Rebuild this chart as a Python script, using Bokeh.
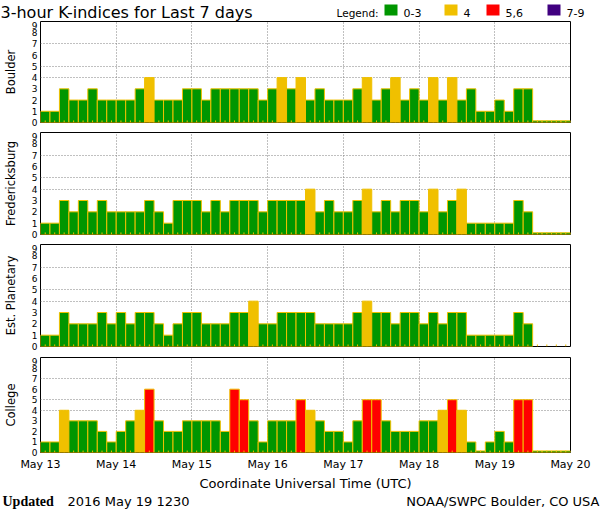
from bokeh.plotting import figure
from bokeh.layouts import column
from bokeh.models import FixedTicker, ColumnDataSource, Grid, Range1d
from bokeh.core.properties import value
from bokeh.embed import file_html
from bokeh.resources import INLINE

# ---------------- data ----------------
day_labels = ["May 13", "May 14", "May 15", "May 16", "May 17", "May 18", "May 19", "May 20"]
bars_per_day = 8

boulder = [1, 1, 3, 2, 2, 3, 2, 2,
           2, 2, 3, 4, 2, 2, 2, 3,
           3, 2, 3, 3, 3, 3, 3, 2,
           3, 4, 3, 4, 2, 3, 2, 2,
           2, 3, 4, 2, 3, 4, 2, 3,
           2, 4, 2, 4, 2, 3, 1, 1,
           2, 1, 3, 3, 0, 0, 0, 0]
fredericksburg = [1, 1, 3, 2, 3, 2, 3, 2,
                  2, 2, 2, 3, 2, 1, 3, 3,
                  3, 2, 3, 2, 3, 3, 3, 2,
                  3, 3, 3, 3, 4, 2, 3, 2,
                  2, 3, 4, 2, 3, 2, 3, 3,
                  2, 4, 2, 3, 4, 1, 1, 1,
                  1, 1, 3, 2, 0, 0, 0, 0]
planetary = [1, 1, 3, 2, 2, 2, 3, 2,
             3, 2, 3, 3, 2, 1, 2, 3,
             3, 2, 2, 2, 3, 3, 4, 2,
             2, 3, 3, 3, 3, 2, 2, 2,
             2, 3, 4, 3, 3, 2, 3, 3,
             2, 3, 2, 3, 3, 1, 1, 1,
             1, 1, 3, 2, None, None, None, None]
college = [1, 1, 4, 3, 3, 3, 2, 1,
           2, 3, 4, 6, 3, 2, 2, 3,
           3, 3, 3, 2, 6, 5, 3, 1,
           3, 3, 3, 5, 4, 3, 2, 2,
           1, 3, 5, 5, 3, 2, 2, 2,
           3, 3, 4, 5, 4, 1, 0, 1,
           2, 1, 5, 5, 0, 0, 0, 0]

station_names = ["Boulder", "Fredericksburg", "Est. Planetary", "College"]
station_values = [boulder, fredericksburg, planetary, college]

title_text = "3-hour K-indices for Last 7 days"
legend_title = "Legend:"
legend_labels = ["0-3", "4", "5,6", "7-9"]
x_title = "Coordinate Universal Time (UTC)"
updated_word = "Updated"
updated_time = "2016 May 19 1230"
credit = "NOAA/SWPC Boulder, CO USA"

# ---------------- styles ----------------
GREEN = "#009600"
YELLOW = "#f0c000"
RED = "#ff0000"
PURPLE = "#400080"
legend_colors = [GREEN, YELLOW, RED, PURPLE]
FONT = "DejaVu Sans"
W = 600


def kcolor(k):
    if k <= 3:
        return GREEN
    if k == 4:
        return YELLOW
    if k <= 6:
        return RED
    return PURPLE


def blank_fig(h):
    f = figure(width=W, height=h, x_range=Range1d(0, W), y_range=Range1d(h, 0),
               output_backend="svg", toolbar_location=None, tools="", title=None,
               x_axis_location=None, y_axis_location=None, min_border=0,
               frame_align=False)
    f.outline_line_color = None
    f.background_fill_color = "white"
    f.border_fill_color = "white"
    f.xgrid.grid_line_color = None
    f.ygrid.grid_line_color = None
    return f


# ---------------- header (title + legend) ----------------
HEADER_H = 21
hdr = blank_fig(HEADER_H)
hdr.text(x=[0], y=[11.7], text=[title_text], text_font=value(FONT),
         text_font_size=value("16px"), text_baseline="alphabetic", text_color="black")
hdr.text(x=[336], y=[12.5], text=[legend_title], text_font=value(FONT),
         text_font_size=value("10.5px"), text_baseline="alphabetic", text_color="black")
sw_left = [384, 444, 486, 547]
sw_w = 13
txt_gap = 19
hdr.quad(left=sw_left, right=[s + sw_w for s in sw_left], top=[4] * 4, bottom=[15] * 4,
         fill_color=legend_colors, line_color=None)
hdr.text(x=[s + txt_gap for s in sw_left], y=[12.4] * 4, text=legend_labels,
         text_font=value(FONT), text_font_size=value("11px"),
         text_baseline="alphabetic", text_color="black")

# ---------------- panels ----------------
ndays = len(day_labels) - 1
bw = 1.0 / bars_per_day

# (canvas height, top border, bottom border)
geom = [(111, 0, 10), (112, 0, 10), (113, 0, 11), (136, 0, 35)]

figs = [hdr]
for i, (name, vals) in enumerate(zip(station_names, station_values)):
    h, bt, bb = geom[i]
    last = i == len(station_names) - 1
    p = figure(width=W, height=h, x_range=(0, ndays), y_range=(0, 9),
               output_backend="svg", toolbar_location=None, tools="",
               title=None, x_axis_location="below" if last else None,
               min_border_left=36, min_border_right=30,
               min_border_top=bt, min_border_bottom=bb, frame_align=False)
    p.background_fill_color = "white"
    p.border_fill_color = "white"
    p.outline_line_color = "black"
    p.outline_line_width = 1
    p.xgrid.grid_line_color = None
    p.ygrid.grid_line_color = None

    p.add_layout(Grid(dimension=0, ticker=FixedTicker(ticks=list(range(1, ndays))),
                      grid_line_color="#808080", grid_line_dash="1 2", grid_line_width=1))
    p.add_layout(Grid(dimension=1, ticker=FixedTicker(ticks=[4, 5, 7]),
                      grid_line_color="#808080", grid_line_dash="1 2", grid_line_width=1))

    xs, tops, cols = [], [], []
    centers = []
    for j, k in enumerate(vals):
        c = (j + 0.5) * bw
        centers.append(c)
        if k is None:
            continue
        xs.append(c)
        tops.append(max(k, 0.15))
        cols.append(kcolor(k))
    src = ColumnDataSource(dict(x=xs, top=tops, color=cols))
    p.vbar(x="x", top="top", bottom=0, width=bw, fill_color="color",
           line_color=YELLOW, line_width=1, source=src)
    p.segment(x0=centers, y0=[0] * len(centers), x1=centers, y1=[0.18] * len(centers),
              line_color=YELLOW, line_width=1)

    ya = p.yaxis[0]
    ya.ticker = FixedTicker(ticks=list(range(0, 10)))
    ya.axis_line_color = None
    ya.major_tick_line_color = None
    ya.minor_tick_line_color = None
    ya.major_tick_out = 0
    ya.major_tick_in = 0
    ya.minor_tick_out = 0
    ya.minor_tick_in = 0
    ya.major_label_text_font = FONT
    ya.major_label_text_font_size = "9px"
    ya.major_label_text_color = "black"
    ya.major_label_standoff = 3
    ya.axis_label = name
    ya.axis_label_text_font = FONT
    ya.axis_label_text_font_size = "11.5px"
    ya.axis_label_text_font_style = "normal"
    ya.axis_label_text_color = "black"
    ya.axis_label_standoff = 11

    if last:
        xa = p.xaxis[0]
        xa.ticker = FixedTicker(ticks=list(range(0, ndays + 1)))
        xa.major_label_overrides = {d: lab for d, lab in enumerate(day_labels)}
        xa.axis_line_color = None
        xa.major_tick_line_color = None
        xa.minor_tick_line_color = None
        xa.major_tick_out = 0
        xa.major_tick_in = 0
        xa.minor_tick_out = 0
        xa.minor_tick_in = 0
        xa.major_label_text_font = FONT
        xa.major_label_text_font_size = "11px"
        xa.major_label_text_color = "black"
        xa.major_label_standoff = 5
        xa.axis_label = x_title
        xa.axis_label_text_font = FONT
        xa.axis_label_text_font_size = "13px"
        xa.axis_label_text_font_style = "normal"
        xa.axis_label_text_color = "black"
        xa.axis_label_standoff = 2
    figs.append(p)

# ---------------- footer ----------------
FOOTER_H = 16
ftr = blank_fig(FOOTER_H)
ftr.text(x=[2], y=[8], text=[updated_word], text_font=value("Liberation Serif"),
         text_font_style="bold", text_font_size=value("14px"),
         text_baseline="alphabetic", text_color="black")
ftr.text(x=[67], y=[7.9], text=[updated_time], text_font=value(FONT),
         text_font_size=value("13px"), text_baseline="alphabetic", text_color="black")
ftr.text(x=[599], y=[7.9], text=[credit], text_font=value(FONT),
         text_font_size=value("13px"), text_baseline="alphabetic",
         text_align="right", text_color="black")
figs.append(ftr)

layout = column(*figs, spacing=0)
open("out.html", "w").write(file_html(layout, INLINE))
